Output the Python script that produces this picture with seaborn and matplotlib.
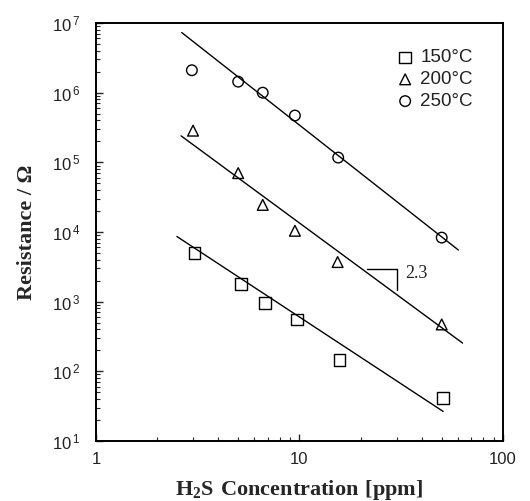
import numpy as np
import pandas as pd
import matplotlib
matplotlib.use("Agg")
import matplotlib.pyplot as plt
import seaborn as sns

# ---- data ----
conc_150 = [3.05, 5.16, 6.75, 9.7, 15.7, 50.8]
res_150 = [5.0e3, 1.8e3, 950, 550, 146, 41]
conc_200 = [3.0, 5.0, 6.6, 9.5, 15.4, 50.0]
res_200 = [2.85e5, 7.0e4, 2.45e4, 1.04e4, 3.7e3, 470]
conc_250 = [2.96, 5.0, 6.6, 9.5, 15.5, 50.0]
res_250 = [2.1e6, 1.44e6, 1.0e6, 4.7e5, 1.17e5, 8.3e3]

# fitted lines (end points)
fit_150_x = [2.5, 50.8]
fit_150_y = [8.6e3, 26.5]
fit_200_x = [2.62, 63.3]
fit_200_y = [2.4e5, 254]
fit_250_x = [2.64, 60.4]
fit_250_y = [7.3e6, 5.5e3]

# slope triangle
slope_x = [21.4, 30.0, 30.0]
slope_y = [2.95e3, 2.95e3, 1.47e3]
slope_label = "2.3"

labels = ["150°C", "200°C", "250°C"]
x_ticks = [1, 10, 100]
x_ticklabels = ["1", "10", "100"]
y_exps = [1, 2, 3, 4, 5, 6, 7]

sns.set_style("ticks")
plt.rcParams["font.family"] = ["Liberation Sans", "DejaVu Sans"]
plt.rcParams["mathtext.fontset"] = "custom"
plt.rcParams["mathtext.rm"] = "Liberation Serif"
plt.rcParams["mathtext.bf"] = "Liberation Serif:bold"
plt.rcParams["mathtext.sf"] = "Liberation Sans"

fig = plt.figure(figsize=(5.30, 5.01), dpi=100)
ax = fig.add_axes([0.181, 0.120, 0.768, 0.834])

series = [
    (conc_150, res_150, "s", labels[0], 70),
    (conc_200, res_200, "^", labels[1], 60),
    (conc_250, res_250, "o", labels[2], 58),
]
for cx, ry, mk, lab, sz in series:
    sns.scatterplot(x=cx, y=ry, marker=mk, s=sz, facecolor="none",
                    edgecolor="black", linewidth=1.0, label=lab, ax=ax, zorder=3)

for fx, fy in [(fit_150_x, fit_150_y), (fit_200_x, fit_200_y), (fit_250_x, fit_250_y)]:
    sns.lineplot(x=fx, y=fy, color="black", linewidth=1.0, ax=ax, zorder=2)

ax.plot(slope_x, slope_y, color="black", linewidth=1.0)
ax.text(33.0, 2.5e3, slope_label, fontsize=13, fontname="Liberation Serif",
        va="center", ha="left", color="#222222")

ax.set_xscale("log")
ax.set_yscale("log")
ax.set_xlim(1, 100)
ax.set_ylim(10, 1e7)

ax.set_xticks(x_ticks)
ax.set_xticklabels(x_ticklabels)
ax.set_yticks([10.0 ** e for e in y_exps])
ax.set_yticklabels([r"$\mathsf{10^{\,%d}}$" % e for e in y_exps])

ax.tick_params(which="major", direction="in", length=5, width=1.0,
               top=False, right=False, labelsize=12)
ax.tick_params(axis="y", which="major", pad=11)
ax.tick_params(axis="x", which="major", pad=8)
ax.tick_params(which="minor", direction="in", length=3, width=0.8,
               top=False, right=False)
for lab in ax.get_xticklabels() + ax.get_yticklabels():
    lab.set_color("#222222")

for sp in ax.spines.values():
    sp.set_linewidth(1.4)
    sp.set_color("black")

ax.set_xlabel(r"$\mathbf{H_2S\ Concentration\ [ppm]}$", fontsize=16, labelpad=8)
ax.set_ylabel("Resistance / Ω", fontsize=16, fontweight="bold",
              fontname="Liberation Serif", labelpad=11)

leg = ax.legend(loc="upper right", bbox_to_anchor=(0.99, 1.0), frameon=False,
                fontsize=13.5, handletextpad=0.3, labelspacing=0.25,
                borderaxespad=1.0, handlelength=1.0)
for t in leg.get_texts():
    t.set_color("#222222")

fig.savefig("out.png", dpi=100, facecolor="white")
